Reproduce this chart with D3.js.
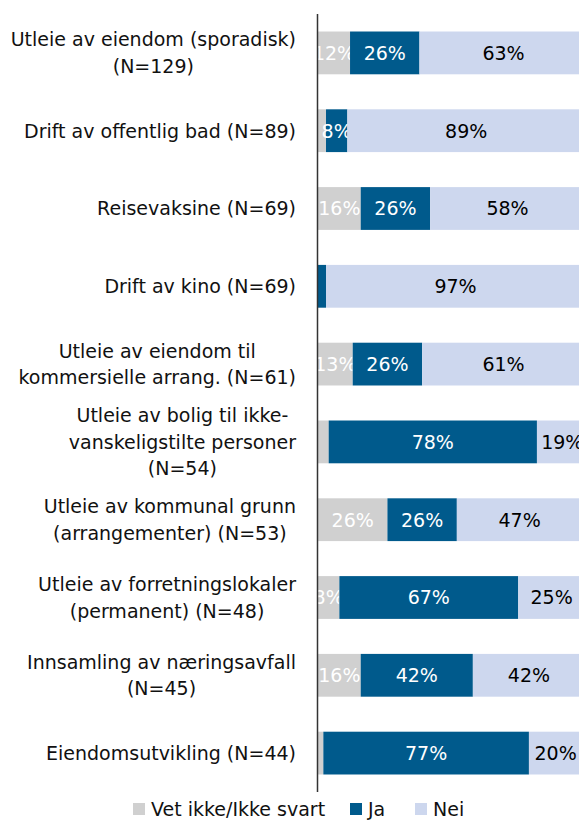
<!DOCTYPE html>
<html>
<head>
<meta charset="utf-8">
<script src="https://cdn.jsdelivr.net/npm/d3@7"></script>
<style>
  body { margin: 0; background: #fff; }
  svg { display: block; font-family: "DejaVu Sans", sans-serif; }
</style>
</head>
<body>
<div id="chart"></div>
<script>
  'use strict';

  // category labels, one array of lines per bar
  var categories = [
    ['Utleie av eiendom (sporadisk)', '(N=129)'],
    ['Drift av offentlig bad (N=89)'],
    ['Reisevaksine (N=69)'],
    ['Drift av kino (N=69)'],
    ['Utleie av eiendom til', 'kommersielle arrang. (N=61)'],
    ['Utleie av bolig til ikke-', 'vanskeligstilte personer', '(N=54)'],
    ['Utleie av kommunal grunn', '(arrangementer) (N=53)'],
    ['Utleie av forretningslokaler', '(permanent) (N=48)'],
    ['Innsamling av næringsavfall', '(N=45)'],
    ['Eiendomsutvikling (N=44)']
  ];

  // series values in percent
  var vetIkke = [12, 3, 16, 0, 13, 4, 26, 8, 16, 2];
  var ja      = [26, 8, 26, 3, 26, 78, 26, 67, 42, 77];
  var nei     = [63, 89, 58, 97, 61, 19, 47, 25, 42, 20];

  var seriesNames = ['Vet ikke/Ikke svart', 'Ja', 'Nei'];
  var seriesKeys  = ['vet', 'ja', 'nei'];
  var colors      = ['#d0d0d0', '#005a8c', '#cdd7ee'];
  var labelColors = ['#ffffff', '#ffffff', '#000000'];

  var width = 579, height = 821;
  var svg = d3.select('#chart').append('svg')
    .attr('width', width)
    .attr('height', height);

  //Build table for the stack layout
  var rows = categories.map(function(c, i){
    return { idx: i, vet: vetIkke[i], ja: ja[i], nei: nei[i] };
  });
  var stacked = d3.stack().keys(seriesKeys)(rows);

  var x = d3.scaleLinear().domain([0, 100]).range([318, 585]);
  var y = d3.scaleBand()
    .domain(d3.range(categories.length))
    .range([14, 792])
    .paddingInner(0.45)
    .paddingOuter(0.225);

  //Draw bars
  var layers = svg.selectAll('.layer')
    .data(stacked)
    .enter().append('g')
    .attr('class', 'layer')
    .attr('fill', function(d, i){ return colors[i]; });

  layers.selectAll('rect')
    .data(function(d){ return d; })
    .enter().append('rect')
    .attr('x', function(d){ return x(d[0]); })
    .attr('y', function(d){ return y(d.data.idx); })
    .attr('width', function(d){ return x(d[1]) - x(d[0]); })
    .attr('height', y.bandwidth());

  //Value labels
  layers.each(function(layer, li){
    d3.select(this).selectAll('text')
      .data(layer.filter(function(d){ return d[1] - d[0] >= 5; }))
      .enter().append('text')
      .attr('x', function(d){ return (x(d[0]) + x(d[1])) / 2; })
      .attr('y', function(d){ return y(d.data.idx) + y.bandwidth() / 2; })
      .attr('dy', '0.36em')
      .attr('text-anchor', 'middle')
      .attr('fill', labelColors[li])
      .style('font-size', '19px')
      .text(function(d){ return Math.round(d[1] - d[0]) + '%'; });
  });

  //Axis line
  svg.append('line')
    .attr('x1', 317.5).attr('x2', 317.5)
    .attr('y1', 14).attr('y2', 792)
    .attr('stroke', '#333')
    .attr('stroke-width', 1.5);

  //Category labels: lines centered within the block, block right aligned
  var lineH = 26.5, rightEdge = 296;
  categories.forEach(function(lines, i){
    var g = svg.append('g');
    var cy = y(i) + y.bandwidth() / 2;
    var texts = lines.map(function(line, k){
      return g.append('text')
        .attr('y', cy + (k - (lines.length - 1) / 2) * lineH)
        .attr('dy', '0.36em')
        .attr('text-anchor', 'middle')
        .attr('fill', '#111')
        .style('font-size', '19px')
        .text(line);
    });
    var maxW = d3.max(texts, function(t){ return t.node().getComputedTextLength(); });
    texts.forEach(function(t){ t.attr('x', rightEdge - maxW / 2); });
  });

  //Legend
  var legendX = [133, 350, 415];
  var legend = svg.selectAll('.legend')
    .data(seriesNames)
    .enter().append('g')
    .attr('class', 'legend')
    .attr('transform', function(d, i){ return 'translate(' + legendX[i] + ',803)'; });

  legend.append('rect')
    .attr('width', 12).attr('height', 12)
    .attr('fill', function(d, i){ return colors[i]; });

  legend.append('text')
    .attr('x', 18)
    .attr('y', 6)
    .attr('dy', '0.36em')
    .attr('fill', '#111')
    .style('font-size', '19px')
    .text(function(d){ return d; });
</script>
</body>
</html>
